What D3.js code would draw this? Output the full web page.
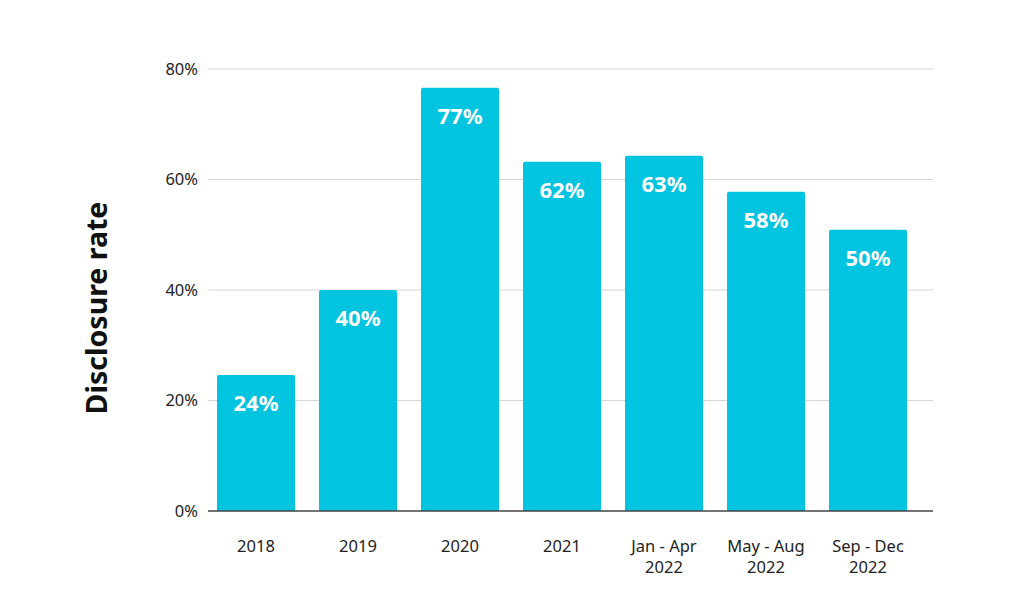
<!DOCTYPE html>
<html>
<head>
<meta charset="utf-8">
<script src="https://cdn.jsdelivr.net/npm/d3@7"></script>
<style>
  body { margin: 0; background: #fff; }
  svg { display: block; font-family: "Noto Sans", "Open Sans", sans-serif; }
</style>
</head>
<body>
<svg id="chart"></svg>
<script>
var categories = ["2018", "2019", "2020", "2021", "Jan - Apr\n2022", "May - Aug\n2022", "Sep - Dec\n2022"];
var rates = [24.6, 40.0, 76.6, 63.2, 64.3, 57.8, 50.9];
var rateLabels = ["24%", "40%", "77%", "62%", "63%", "58%", "50%"];
var yTicks = [0, 20, 40, 60, 80];

var width = 1024, height = 615;
var svg = d3.select("#chart").attr("width", width).attr("height", height);

var x = d3.scaleBand()
  .domain(categories)
  .range([205, 919])
  .paddingInner(0.235)
  .paddingOuter(0.1175);

var y = d3.scaleLinear().domain([0, 80]).range([511, 69]);

// grid lines
svg.append("g").selectAll("line")
  .data(yTicks.filter(function(d) { return d > 0; }))
  .enter().append("line")
  .attr("x1", 208).attr("x2", 933)
  .attr("y1", function(d) { return y(d); })
  .attr("y2", function(d) { return y(d); })
  .attr("stroke", "#d6d6d6").attr("stroke-width", 1);

// y tick labels
svg.append("g").selectAll("text")
  .data(yTicks)
  .enter().append("text")
  .attr("x", 198)
  .attr("y", function(d) { return y(d); })
  .attr("dy", "0.35em")
  .attr("text-anchor", "end")
  .attr("font-size", 16.5)
  .attr("fill", "#222")
  .text(function(d) { return d + "%"; });

// bars
svg.append("g").selectAll("path")
  .data(rates)
  .enter().append("path")
  .attr("fill", "#00c4e0")
  .attr("d", function(d, i) {
    var x0 = x(categories[i]), w = x.bandwidth(), t = y(d), b = y(0), r = 2;
    return "M" + x0 + "," + b + "V" + (t + r) + "Q" + x0 + "," + t + " " + (x0 + r) + "," + t +
      "H" + (x0 + w - r) + "Q" + (x0 + w) + "," + t + " " + (x0 + w) + "," + (t + r) + "V" + b + "Z";
  });

// bar value labels
svg.append("g").selectAll("text")
  .data(rates)
  .enter().append("text")
  .attr("x", function(d, i) { return x(categories[i]) + x.bandwidth() / 2; })
  .attr("y", function(d) { return y(d) + 36; })
  .attr("text-anchor", "middle")
  .attr("font-size", 22)
  .attr("font-weight", "bold")
  .attr("fill", "#fff")
  .text(function(d, i) { return rateLabels[i]; });

// baseline
svg.append("line")
  .attr("x1", 208).attr("x2", 933)
  .attr("y1", y(0)).attr("y2", y(0))
  .attr("stroke", "#444").attr("stroke-width", 1.3);

// x labels
var xl = svg.append("g").selectAll("text")
  .data(categories)
  .enter().append("text")
  .attr("x", function(d) { return x(d) + x.bandwidth() / 2; })
  .attr("y", 552)
  .attr("text-anchor", "middle")
  .attr("font-size", 16.5)
  .attr("fill", "#222");
xl.selectAll("tspan")
  .data(function(d) { return d.split("\n"); })
  .enter().append("tspan")
  .attr("x", function() { return this.parentNode.getAttribute("x"); })
  .attr("dy", function(d, i) { return i ? 21 : 0; })
  .text(function(d) { return d; });

// y title
svg.append("text")
  .attr("transform", "translate(107,308) rotate(-90)")
  .attr("text-anchor", "middle")
  .attr("font-size", 28.5)
  .attr("font-weight", "bold")
  .attr("fill", "#111")
  .text("Disclosure rate");
</script>
</body>
</html>
